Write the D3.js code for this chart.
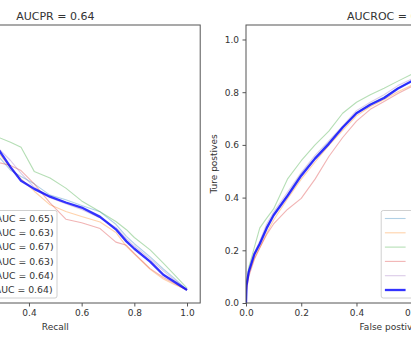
<!DOCTYPE html>
<html><head><meta charset="utf-8">
<script src="https://cdn.jsdelivr.net/npm/d3@7"></script>
<style>
html,body{margin:0;padding:0;background:#fff;overflow:hidden}
svg{display:block;font-family:"DejaVu Sans",sans-serif}
</style>
</head><body>
<svg id="c" width="411" height="343"></svg>
<script>
// ---------- DATA ----------
const prTitle = "AUCPR = 0.64";
const rocTitle = "AUCROC = 0.71";
const foldColors = ["#1f77b4", "#ff7f0e", "#2ca02c", "#d62728", "#9467bd"];

const prLabels = ["PR fold 0 (AUC = 0.65)", "PR fold 1 (AUC = 0.63)", "PR fold 2 (AUC = 0.67)",
                  "PR fold 3 (AUC = 0.63)", "PR fold 4 (AUC = 0.64)", "Mean PR (AUC = 0.64)"];
const rocLabels = ["ROC fold 0 (AUC = 0.71)", "ROC fold 1 (AUC = 0.70)", "ROC fold 2 (AUC = 0.74)",
                   "ROC fold 3 (AUC = 0.69)", "ROC fold 4 (AUC = 0.72)", "Mean ROC (AUC = 0.71)"];

const recall = [0, 0.05, 0.1, 0.15, 0.2, 0.25, 0.29, 0.33, 0.37, 0.42, 0.48, 0.54, 0.60, 0.67, 0.73, 0.77, 0.80, 0.86, 0.91, 0.95, 1.0];
const precFold0 = [1.0, 0.94, 0.88, 0.82, 0.77, 0.72, 0.690, 0.659, 0.643, 0.624, 0.595, 0.583, 0.568, 0.552, 0.520, 0.489, 0.470, 0.436, 0.405, 0.382, 0.351];
const precFold1 = [1.0, 0.92, 0.86, 0.81, 0.77, 0.73, 0.699, 0.664, 0.637, 0.605, 0.570, 0.553, 0.540, 0.526, 0.499, 0.463, 0.443, 0.404, 0.379, 0.366, 0.351];
const precFold2 = [1.0, 0.96, 0.91, 0.86, 0.81, 0.77, 0.742, 0.731, 0.718, 0.656, 0.639, 0.613, 0.580, 0.552, 0.527, 0.506, 0.486, 0.454, 0.420, 0.392, 0.356];
const precFold3 = [1.0, 0.90, 0.82, 0.76, 0.72, 0.69, 0.678, 0.671, 0.658, 0.624, 0.575, 0.533, 0.524, 0.509, 0.474, 0.466, 0.445, 0.406, 0.383, 0.369, 0.351];
const precFold4 = [1.0, 0.95, 0.89, 0.84, 0.79, 0.75, 0.711, 0.684, 0.651, 0.615, 0.588, 0.573, 0.558, 0.536, 0.512, 0.483, 0.464, 0.431, 0.400, 0.378, 0.351];
const precMean  = [1.0, 0.93, 0.87, 0.82, 0.78, 0.74, 0.707, 0.667, 0.632, 0.611, 0.591, 0.576, 0.563, 0.539, 0.507, 0.476, 0.457, 0.424, 0.390, 0.373, 0.351];

const fpr = [0, 0.002, 0.01, 0.03, 0.05, 0.075, 0.1, 0.15, 0.2, 0.25, 0.3, 0.35, 0.4, 0.45, 0.5, 0.55, 0.6, 0.7, 0.8, 0.9, 1.0];
const tprFold0 = [0, 0.070, 0.120, 0.180, 0.225, 0.290, 0.335, 0.410, 0.490, 0.552, 0.610, 0.667, 0.722, 0.755, 0.782, 0.815, 0.840, 0.888, 0.930, 0.965, 1.0];
const tprFold1 = [0, 0.060, 0.110, 0.170, 0.210, 0.265, 0.315, 0.395, 0.470, 0.535, 0.598, 0.655, 0.710, 0.745, 0.772, 0.802, 0.826, 0.875, 0.920, 0.960, 1.0];
const tprFold2 = [0, 0.080, 0.135, 0.210, 0.285, 0.322, 0.357, 0.470, 0.540, 0.600, 0.652, 0.720, 0.762, 0.790, 0.815, 0.842, 0.868, 0.910, 0.945, 0.975, 1.0];
const tprFold3 = [0, 0.050, 0.100, 0.165, 0.210, 0.260, 0.300, 0.355, 0.397, 0.470, 0.556, 0.628, 0.690, 0.735, 0.765, 0.795, 0.822, 0.870, 0.915, 0.955, 1.0];
const tprFold4 = [0, 0.075, 0.125, 0.190, 0.235, 0.300, 0.345, 0.420, 0.495, 0.560, 0.615, 0.672, 0.730, 0.762, 0.790, 0.825, 0.850, 0.895, 0.935, 0.970, 1.0];
const tprMean  = [0, 0.067, 0.118, 0.185, 0.225, 0.284, 0.333, 0.406, 0.483, 0.548, 0.604, 0.666, 0.720, 0.752, 0.778, 0.814, 0.842, 0.890, 0.930, 0.965, 1.0];

const tickValues = [0.0, 0.2, 0.4, 0.6, 0.8, 1.0];

// ---------- LAYOUT ----------
const svg = d3.select("#c");
const textColor = "#333";
const spineColor = "#555";
const plotTop = 25, plotBottom = 303;
const prArea = {x0: -89.6, x1: 200.2};
const rocArea = {x0: 246, x1: 536};

const xPR = d3.scaleLinear().domain([-0.05, 1.05]).range([prArea.x0, prArea.x1]);
const yPR = d3.scaleLinear().domain([0.3175, 1.0325]).range([plotBottom, plotTop]);
const xROC = d3.scaleLinear().domain([0, 1.05]).range([rocArea.x0, rocArea.x1]);
const yROC = d3.scaleLinear().domain([0, 1.055]).range([plotBottom, plotTop]);

function drawPanel(id, area, xs, ys, xData, ySeries, title, xLabel, yLabel) {
  const g = svg.append("g");
  g.append("clipPath").attr("id", id).append("rect")
    .attr("x", area.x0).attr("y", plotTop).attr("width", area.x1 - area.x0).attr("height", plotBottom - plotTop);

  const fmt = d3.format(".1f");
  const yd = ys.domain();
  const xa = g.append("g").attr("transform", `translate(0,${plotBottom})`)
    .call(d3.axisBottom(xs).tickValues(tickValues).tickFormat(fmt).tickSize(3.5).tickPadding(3.5));
  const ya = g.append("g").attr("transform", `translate(${area.x0},0)`)
    .call(d3.axisLeft(ys).tickValues(tickValues.filter(v => v >= yd[0] && v <= yd[1])).tickFormat(fmt).tickSize(3.5).tickPadding(3.5));
  [xa, ya].forEach(a => {
    a.select(".domain").remove();
    a.selectAll("line").attr("stroke", spineColor);
    a.selectAll("text").attr("fill", textColor).style("font-size", "9px").style("font-family", '"DejaVu Sans",sans-serif');
  });

  const line = d3.line().x((d, i) => xs(xData[i])).y(d => ys(d));
  const lines = g.append("g").attr("clip-path", `url(#${id})`);
  ySeries.forEach((s, i) => {
    const mean = i === ySeries.length - 1;
    lines.append("path").datum(s).attr("d", line).attr("fill", "none")
      .attr("stroke", mean ? "blue" : foldColors[i])
      .attr("stroke-width", mean ? 2.3 : 1.1)
      .attr("stroke-opacity", mean ? 0.8 : 0.35)
      .attr("stroke-linejoin", "round");
  });

  g.append("rect").attr("x", area.x0).attr("y", plotTop).attr("width", area.x1 - area.x0).attr("height", plotBottom - plotTop)
    .attr("fill", "none").attr("stroke", spineColor).attr("stroke-width", 1);

  const cx = (area.x0 + area.x1) / 2;
  g.append("text").attr("x", cx).attr("y", 20).attr("text-anchor", "middle")
    .style("font-size", "11px").attr("fill", textColor).text(title);
  g.append("text").attr("x", cx).attr("y", 330).attr("text-anchor", "middle")
    .style("font-size", "9px").attr("fill", textColor).text(xLabel);
  g.append("text").attr("transform", `translate(${area.x0 - 29.5},${(plotTop + plotBottom) / 2}) rotate(-90)`)
    .attr("text-anchor", "middle").style("font-size", "9px").attr("fill", textColor).text(yLabel);
  return g;
}

function drawLegend(g, labels, anchorX, side) {
  const rowH = 14.3, pad = 8;
  const lg = g.append("g");
  const box = lg.append("rect").attr("fill", "#fff").attr("fill-opacity", 0.85)
    .attr("stroke", "#d0d0d0").attr("stroke-width", 1).attr("rx", 2);
  const h = pad * 2 + rowH * (labels.length - 1);
  const y0 = plotBottom - 5 - h;
  let maxW = 0;
  const items = labels.map((lab, i) => {
    const mean = i === labels.length - 1;
    const y = y0 + pad + i * rowH;
    const ln = lg.append("line").attr("y1", y).attr("y2", y)
      .attr("stroke", mean ? "blue" : foldColors[i])
      .attr("stroke-width", mean ? 2.3 : 1.1)
      .attr("stroke-opacity", mean ? 0.8 : 0.35);
    const t = lg.append("text").attr("y", y).attr("dy", "0.35em")
      .style("font-size", "9.3px").attr("fill", textColor).text(lab);
    maxW = Math.max(maxW, t.node().getComputedTextLength());
    return {ln, t};
  });
  const w = 32.5 + maxW + 3.5;
  const x0 = side === "left" ? anchorX + 5 : anchorX - 5 - w;
  box.attr("x", x0).attr("y", y0).attr("width", w).attr("height", h);
  items.forEach(({ln, t}) => {
    ln.attr("x1", x0 + 3.7).attr("x2", x0 + 24.4);
    t.attr("x", x0 + 32.5);
  });
}

const gPR = drawPanel("clipPR", prArea, xPR, yPR, recall,
  [precFold0, precFold1, precFold2, precFold3, precFold4, precMean], prTitle, "Recall", "Precision");
drawLegend(gPR, prLabels, prArea.x0, "left");

const gROC = drawPanel("clipROC", rocArea, xROC, yROC, fpr,
  [tprFold0, tprFold1, tprFold2, tprFold3, tprFold4, tprMean], rocTitle, "False postives", "Ture postives");
drawLegend(gROC, rocLabels, rocArea.x1, "right");
</script>
</body></html>
